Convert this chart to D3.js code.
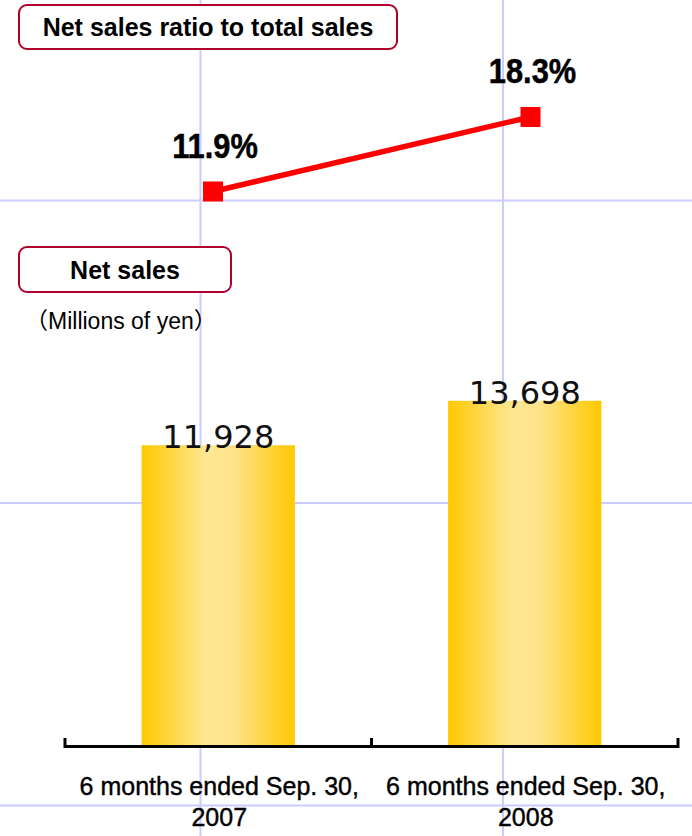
<!DOCTYPE html>
<html>
<head>
<meta charset="utf-8">
<script src="https://cdn.jsdelivr.net/npm/d3@7"></script>
<style>
  html, body { margin: 0; padding: 0; background: #ffffff; }
  svg { display: block; }
</style>
</head>
<body>
<div id="chart"></div>
<script>
// Periods shown on both panels
const categories = ["6 months ended Sep. 30, 2007", "6 months ended Sep. 30, 2008"];
const categoryLines = [["6 months ended Sep. 30,", "2007"], ["6 months ended Sep. 30,", "2008"]];
// Net sales, millions of yen
const netSales = [11928, 13698];
const netSalesLabels = ["11,928", "13,698"];
// Net sales ratio to total sales, percent
const salesRatio = [11.9, 18.3];
const salesRatioLabels = ["11.9%", "18.3%"];

const W = 692, H = 836;
const svg = d3.select("#chart").append("svg").attr("width", W).attr("height", H);

// Background grid
const gridColor = "#ccccff";
const gridPos = [200.5, 503, 805.5];
svg.append("g").selectAll("line.v").data(gridPos).join("line")
  .attr("x1", d => d).attr("x2", d => d).attr("y1", 0).attr("y2", H)
  .attr("stroke", gridColor).attr("stroke-width", 2);
svg.append("g").selectAll("line.h").data(gridPos).join("line")
  .attr("x1", 0).attr("x2", W).attr("y1", d => d).attr("y2", d => d)
  .attr("stroke", gridColor).attr("stroke-width", 2);

// Bar gradient
const defs = svg.append("defs");
const grad = defs.append("linearGradient").attr("id", "barGrad")
  .attr("x1", "0%").attr("x2", "100%").attr("y1", "0%").attr("y2", "0%");
[[0, "#ffc800"], [0.42, "#fee793"], [0.6, "#fde38a"], [1, "#ffc800"]].forEach(([o, c]) =>
  grad.append("stop").attr("offset", o).attr("stop-color", c));

// Titled boxes
const boxColor = "#b0002c";
function titleBox(x, y, w, h, label) {
  svg.append("rect").attr("x", x).attr("y", y).attr("width", w).attr("height", h)
    .attr("rx", 8).attr("ry", 8).attr("fill", "#fff")
    .attr("stroke", boxColor).attr("stroke-width", 2);
  svg.append("text").attr("x", x + w / 2).attr("y", y + h / 2 + 9)
    .attr("text-anchor", "middle")
    .attr("font-family", "'Liberation Sans', Arial, sans-serif")
    .attr("font-weight", "bold").attr("font-size", 25).attr("fill", "#000")
    .text(label);
}

// ---- Ratio line panel ----
const xLine = d3.scalePoint().domain(categories).range([213, 530.5]);
const yLine = d3.scaleLinear().domain([0, 20]).range([330, 97.2]);

titleBox(19, 5, 378, 44, "Net sales ratio to total sales");

const lineData = categories.map((c, i) => ({ c, v: salesRatio[i], label: salesRatioLabels[i] }));
svg.append("path").datum(lineData)
  .attr("fill", "none").attr("stroke", "#ff0000").attr("stroke-width", 5.5)
  .attr("d", d3.line().x(d => xLine(d.c)).y(d => yLine(d.v)));
svg.append("g").selectAll("rect").data(lineData).join("rect")
  .attr("x", d => xLine(d.c) - 10).attr("y", d => yLine(d.v) - 10)
  .attr("width", 20).attr("height", 20).attr("fill", "#ff0000");
svg.append("g").selectAll("g").data(lineData).join("g")
  .attr("transform", d => `translate(${xLine(d.c) + 2},${yLine(d.v) - 33.5}) scale(0.88,1)`)
  .append("text").attr("text-anchor", "middle")
  .attr("font-family", "'Liberation Sans', Arial, sans-serif")
  .attr("font-weight", "bold").attr("font-size", 35).attr("fill", "#000")
  .attr("stroke", "#000").attr("stroke-width", 0.5)
  .text(d => d.label);

// ---- Net sales bar panel ----
titleBox(19, 247, 212, 45, "Net sales");
svg.append("text").attr("x", 25).attr("y", 329)
  .attr("font-family", "'Liberation Sans', Arial, 'Noto Sans CJK JP', sans-serif")
  .attr("font-size", 23).attr("fill", "#000")
  .text("（Millions of yen）");

const x = d3.scaleBand().domain(categories).range([65, 678]).padding(0);
const y = d3.scaleLinear().domain([0, 16000]).range([745, 342.9]);
const bw = x.bandwidth();

const barData = categories.map((c, i) => ({ c, v: netSales[i], label: netSalesLabels[i] }));
svg.append("g").selectAll("rect").data(barData).join("rect")
  .attr("x", d => x(d.c) + bw * 0.25).attr("width", bw * 0.5)
  .attr("y", d => y(d.v)).attr("height", d => y(0) - y(d.v))
  .attr("fill", "url(#barGrad)");
svg.append("g").selectAll("text").data(barData).join("text")
  .attr("x", d => x(d.c) + bw / 2).attr("y", d => y(d.v) + 3)
  .attr("text-anchor", "middle")
  .attr("font-family", "'DejaVu Sans', sans-serif")
  .attr("font-size", 32).attr("fill", "#111")
  .text(d => d.label);

// Category axis with boundary ticks
const axisY = 746.5;
const axis = svg.append("g");
axis.append("line").attr("x1", x.range()[0]).attr("x2", x.range()[1])
  .attr("y1", axisY).attr("y2", axisY).attr("stroke", "#000").attr("stroke-width", 3);
const tickX = categories.map(c => x(c)).concat([x.range()[1]]);
axis.selectAll("line.tick").data(tickX).join("line")
  .attr("x1", d => d).attr("x2", d => d).attr("y1", 738).attr("y2", axisY + 1.5)
  .attr("stroke", "#000").attr("stroke-width", 3);
const catText = axis.selectAll("text").data(categories).join("text")
  .attr("text-anchor", "middle")
  .attr("font-family", "'Liberation Sans', Arial, sans-serif")
  .attr("font-size", 25).attr("fill", "#000")
  .attr("stroke", "#000").attr("stroke-width", 0.4);
catText.each(function (c, i) {
  const t = d3.select(this);
  categoryLines[i].forEach((ln, j) => {
    t.append("tspan").attr("x", x(c) + bw / 2 + 1).attr("y", 795 + j * 31).text(ln);
  });
});
</script>
</body>
</html>
